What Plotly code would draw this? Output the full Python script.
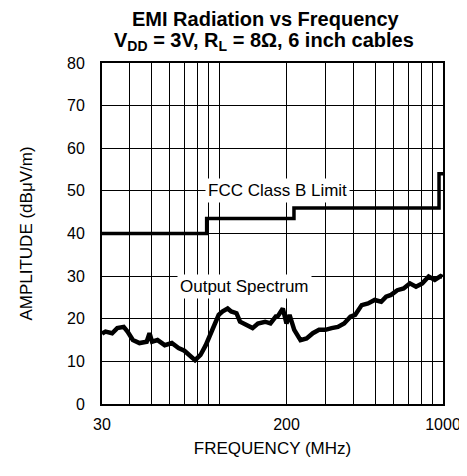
import plotly.graph_objects as go

# FCC Class B limit (step function)
fcc_freq = [30, 88, 216, 960, 1000]
fcc_amp = [40, 43.5, 46, 54, 54]

# Output spectrum
spec_freq = [30, 31.1, 33.3, 35.1, 37.5, 39.0, 41.2, 44.1, 47.5, 48.9, 50.2, 53.1,
             57.2, 61.5, 65.9, 70, 78.1, 82.6, 87.2, 93.3, 99.6, 103.4, 109.2, 113.2,
             119.6, 124, 133.5, 141.1, 149.1, 160.5, 169.6, 179.1, 182.4, 192.6, 200,
             203.1, 206.4, 216.6, 231, 246, 262.2, 279.6, 298.5, 318, 339.3, 361.8,
             385.9, 405.2, 433.4, 462.9, 495, 529.7, 557, 586, 625.4, 667, 711.4,
             757.5, 807.8, 862.8, 918.9, 976, 994]
spec_amp = [16.5, 17, 16.6, 17.8, 18.1, 17, 15, 14.3, 14.6, 16.6, 14.6, 15,
            13.8, 14.3, 13.1, 12.5, 10.3, 11.5, 13.8, 17.4, 20.9, 21.7, 22.4, 21.7,
            21.3, 19.3, 18.5, 17.8, 18.9, 19.3, 18.9, 20.5, 20.5, 22.4, 18.9,
            19.7, 20.9, 17.4, 15, 15.4, 16.6, 17.4, 17.4, 17.8, 18.1, 18.9,
            20.5, 20.9, 23.2, 23.6, 24.4, 24.0, 25.2, 25.6, 26.7, 27.1, 28.3,
            27.5, 28.3, 29.9, 29.1, 30.0, 29.8]

x_grid = [30, 40, 50, 60, 70, 80, 90, 100, 200, 300, 400, 500, 600, 700, 800, 900, 1000]
x_labels = ["30", "", "", "", "", "", "", "", "200", "", "", "", "", "", "", "", "1000"]
y_ticks = [0, 10, 20, 30, 40, 50, 60, 70, 80]

FONT = "Liberation Sans, Arial, sans-serif"

fig = go.Figure()
fig.add_trace(go.Scatter(x=fcc_freq, y=fcc_amp, mode="lines", line=dict(color="black", width=3.5, shape="hv"),
                         showlegend=False, hoverinfo="skip"))
fig.add_trace(go.Scatter(x=spec_freq, y=spec_amp, mode="lines", line=dict(color="black", width=4.5),
                         showlegend=False, hoverinfo="skip"))

# the page body adds an 8px offset, so the figure is 8px smaller and margins shifted
fig.update_layout(
    width=459, height=468,
    margin=dict(l=94, r=24, t=55, b=72),
    paper_bgcolor="white", plot_bgcolor="white",
    font=dict(family=FONT, size=16, color="black"),
    xaxis=dict(type="log", range=[1.4771, 3.0], tickvals=x_grid, ticktext=x_labels,
               showgrid=True, gridcolor="black", gridwidth=1,
               showline=True, linecolor="black", linewidth=2, mirror=True,
               ticks="", ticklabelstandoff=5, zeroline=False, automargin=False,
               tickfont=dict(size=16),
               title=dict(text="FREQUENCY (MHz)", standoff=10, font=dict(size=17))),
    yaxis=dict(range=[0, 80], tickvals=y_ticks,
               showgrid=True, gridcolor="black", gridwidth=1,
               showline=True, linecolor="black", linewidth=2, mirror=True,
               ticks="", ticklabelstandoff=12, zeroline=False, automargin=False,
               tickfont=dict(size=16),
               title=dict(text="AMPLITUDE (dBμV/m)", standoff=30, font=dict(size=17))),
    annotations=[
        dict(text="<b>EMI Radiation vs Frequency</b>", xref="paper", yref="paper", x=0.48, y=1.128,
             showarrow=False, xanchor="center", yanchor="middle", font=dict(size=20, family=FONT)),
        dict(text="<b>V<sub>DD</sub> = 3V, R<sub>L</sub> = 8Ω, 6 inch cables</b>", xref="paper", yref="paper",
             x=0.476, y=1.064, showarrow=False, xanchor="center", yanchor="middle", font=dict(size=20, family=FONT)),
        dict(text="FCC Class B Limit", xref="paper", yref="y", x=0.515, y=50.1, showarrow=False,
             xanchor="center", yanchor="middle", bgcolor="white", borderpad=2, font=dict(size=17)),
        dict(text="Output Spectrum", xref="paper", yref="y", x=0.417, y=27.6, showarrow=False,
             xanchor="center", yanchor="middle", bgcolor="white", borderpad=2, font=dict(size=17)),
    ],
)

fig.write_html("out.html")
